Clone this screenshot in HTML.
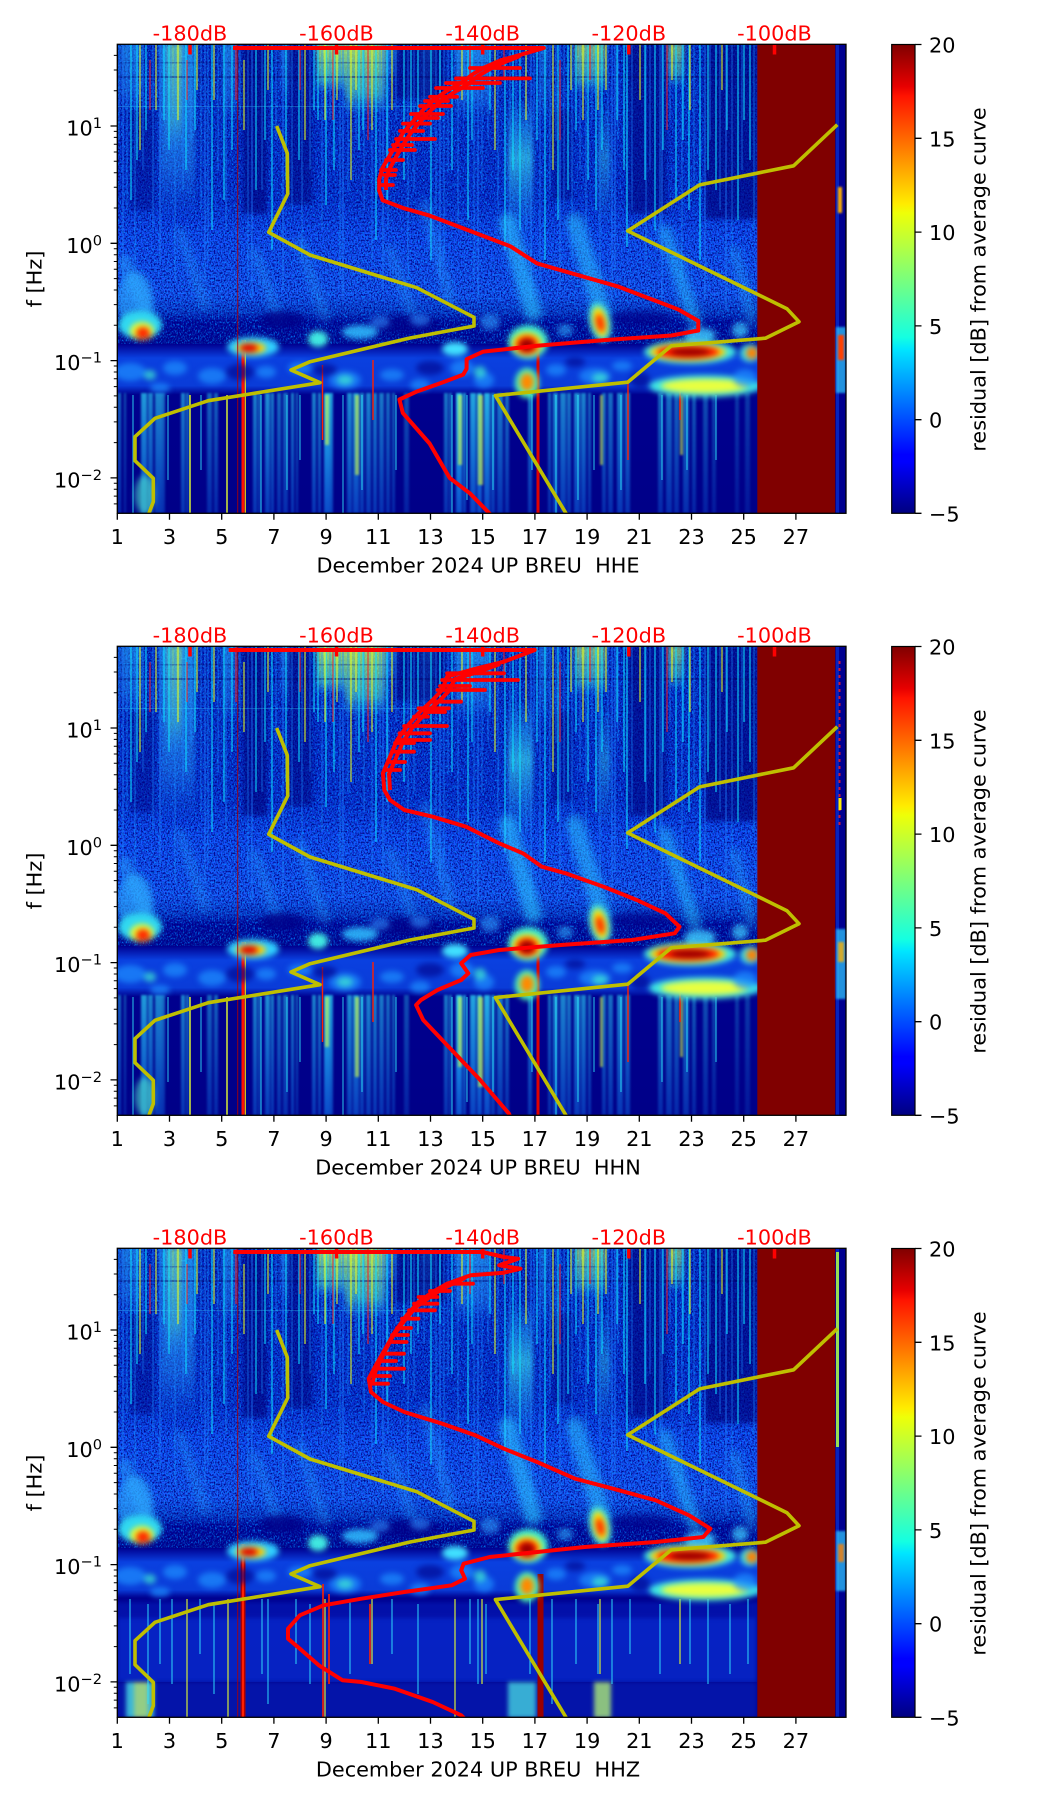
<!DOCTYPE html>
<html><head><meta charset="utf-8">
<style>
html,body{margin:0;padding:0;background:#fff}
svg{display:block}
text{font-family:"DejaVu Sans","Liberation Sans",sans-serif}
</style></head><body>
<svg xmlns="http://www.w3.org/2000/svg" xmlns:xlink="http://www.w3.org/1999/xlink" width="1052" height="1806" viewBox="0 0 1052 1806">
<defs>
<clipPath id="cp"><rect x="117.3" y="44.3" width="728.7" height="469"/></clipPath>
<filter id="b1" x="-20%" y="-20%" width="140%" height="140%" color-interpolation-filters="sRGB"><feGaussianBlur stdDeviation="1"/></filter>
<filter id="b2" x="-30%" y="-30%" width="160%" height="160%" color-interpolation-filters="sRGB"><feGaussianBlur stdDeviation="2"/></filter>
<filter id="b3" x="-50%" y="-50%" width="200%" height="200%" color-interpolation-filters="sRGB"><feGaussianBlur stdDeviation="3"/></filter>
<filter id="b4" x="-50%" y="-50%" width="200%" height="200%" color-interpolation-filters="sRGB"><feGaussianBlur stdDeviation="4"/></filter>
<filter id="nzL" x="0" y="0" width="1" height="1" color-interpolation-filters="sRGB"><feTurbulence type="fractalNoise" baseFrequency="0.65 0.5" numOctaves="2" seed="4"/><feColorMatrix type="matrix" values="0 0 0 0 0  0 0 0 0 0.55  0 0 0 0 1  2.6 0 0 0 -1.15"/></filter>
<filter id="nzD" x="0" y="0" width="1" height="1" color-interpolation-filters="sRGB"><feTurbulence type="fractalNoise" baseFrequency="0.7 0.55" numOctaves="2" seed="9"/><feColorMatrix type="matrix" values="0 0 0 0 0  0 0 0 0 0  0 0 0 0 0.5  0 2.8 0 0 -1.15"/></filter>
<linearGradient id="bg" gradientUnits="userSpaceOnUse" x1="0" y1="44.3" x2="0" y2="513.3">
<stop offset="0" stop-color="#0628c8"/>
<stop offset="0.332" stop-color="#0832d8"/>
<stop offset="0.407" stop-color="#1450ff"/>
<stop offset="0.535" stop-color="#1a5cff"/>
<stop offset="0.571" stop-color="#0c3ed0"/>
<stop offset="0.592" stop-color="#00009a"/>
<stop offset="0.639" stop-color="#000090"/>
<stop offset="0.669" stop-color="#0a40e0"/>
<stop offset="0.728" stop-color="#0a3cd8"/>
<stop offset="0.747" stop-color="#00008e"/>
<stop offset="1" stop-color="#000088"/>
</linearGradient>
<linearGradient id="jet" x1="0" y1="1" x2="0" y2="0">
<stop offset="0" stop-color="#000080"/>
<stop offset="0.11" stop-color="#0000ff"/>
<stop offset="0.125" stop-color="#0000ff"/>
<stop offset="0.34" stop-color="#00dbff"/>
<stop offset="0.35" stop-color="#00e6ff"/>
<stop offset="0.375" stop-color="#14ffe2"/>
<stop offset="0.5" stop-color="#7bff7b"/>
<stop offset="0.64" stop-color="#eeff08"/>
<stop offset="0.66" stop-color="#ffec00"/>
<stop offset="0.89" stop-color="#ff1300"/>
<stop offset="0.91" stop-color="#e80000"/>
<stop offset="1" stop-color="#800000"/>
</linearGradient>
<linearGradient id="cf" gradientUnits="userSpaceOnUse" x1="0" y1="393" x2="0" y2="513">
<stop offset="0" stop-color="#30e8ff" stop-opacity=".95"/>
<stop offset="0.5" stop-color="#20b8ff" stop-opacity=".85"/>
<stop offset="1" stop-color="#1488ff" stop-opacity=".65"/>
</linearGradient>
<linearGradient id="fC" x1="0" y1="0" x2="0" y2="1"><stop offset="0" stop-color="#30c8ff"/><stop offset="0.7" stop-color="#30b0ff" stop-opacity=".6"/><stop offset="1" stop-color="#2090ff" stop-opacity="0"/></linearGradient>
<linearGradient id="fY" x1="0" y1="0" x2="0" y2="1"><stop offset="0" stop-color="#c8ff50"/><stop offset="0.7" stop-color="#60f0b0" stop-opacity=".7"/><stop offset="1" stop-color="#30c0ff" stop-opacity="0"/></linearGradient>
<linearGradient id="mC" x1="0" y1="0" x2="0" y2="1"><stop offset="0" stop-color="#30d8ff" stop-opacity="0"/><stop offset="0.45" stop-color="#40f0e8"/><stop offset="1" stop-color="#30c0ff" stop-opacity="0"/></linearGradient>

<g id="up">
<rect x="117" y="44" width="730" height="470" fill="url(#bg)"/>
<rect x="117" y="44" width="640" height="300" fill="#000" filter="url(#nzL)"/>
<rect x="117" y="44" width="640" height="300" fill="#000" filter="url(#nzD)"/>
<g filter="url(#b2)">
<rect x="160" y="44" width="35" height="175" fill="url(#fC)" opacity=".6"/>
<rect x="168" y="44" width="14" height="110" fill="url(#fY)" opacity=".45"/>
<rect x="120" y="44" width="22" height="70" fill="url(#fC)" opacity=".45"/>
<rect x="317" y="44" width="28" height="50" fill="url(#fY)" opacity=".85"/>
<rect x="345" y="44" width="40" height="72" fill="url(#fY)" opacity=".8"/>
<rect x="385" y="44" width="12" height="40" fill="url(#fC)" opacity=".5"/>
<rect x="455" y="44" width="35" height="75" fill="url(#fC)" opacity=".55"/>
<rect x="508" y="95" width="25" height="140" fill="url(#mC)" opacity=".6"/>
<rect x="575" y="44" width="30" height="50" fill="url(#fY)" opacity=".7"/>
<rect x="668" y="44" width="16" height="45" fill="url(#fY)" opacity=".6"/>
<rect x="420" y="44" width="15" height="70" fill="url(#fC)" opacity=".4"/>
<rect x="222" y="44" width="14" height="80" fill="url(#fC)" opacity=".45"/>
<rect x="280" y="44" width="10" height="60" fill="url(#fC)" opacity=".4"/>
<rect x="598" y="100" width="12" height="130" fill="url(#mC)" opacity=".35"/>
<rect x="540" y="44" width="8" height="80" fill="url(#fC)" opacity=".4"/>
<rect x="243" y="44" width="24" height="170" fill="#00007a" opacity=".6"/>
<rect x="288" y="44" width="24" height="160" fill="#00007a" opacity=".5"/>
<rect x="395" y="44" width="50" height="55" fill="#00007a" opacity=".55"/>
<rect x="628" y="44" width="38" height="170" fill="#00007a" opacity=".55"/>
<rect x="705" y="44" width="52" height="175" fill="#00007a" opacity=".6"/>
<rect x="552" y="110" width="20" height="90" fill="#00007a" opacity=".4"/>
<rect x="130" y="110" width="25" height="100" fill="#00007a" opacity=".35"/>
</g>
<rect x="117" y="76" width="640" height="2" fill="#00006a" opacity=".4"/>
<rect x="117" y="62" width="640" height="1.5" fill="#000070" opacity=".3"/>
<rect x="117" y="106" width="300" height="1" fill="#40e0ff" opacity=".3"/>
<path d="M119 44V140M127 44V210M135 44V260M143 44V170M153 44V230M171 44V120M175 44V280M183 44V190M191 44V140M201 44V210M208 44V260M218 44V170M226 44V230M240 44V120M248 44V280M262 44V190M276 44V140M292 44V210M302 44V260M310 44V170M322 44V230M330 44V120M340 44V280M348 44V190M356 44V140M364 44V210M372 44V260M380 44V170M388 44V230M396 44V120M408 44V280M414 44V190M424 44V140M436 44V210M444 44V260M448 44V170M458 44V230M464 44V120M474 44V280M482 44V190M488 44V140M498 44V210M510 44V260M516 44V170M526 44V230M534 44V120M540 44V280M550 44V190M556 44V140M564 44V210M572 44V260M580 44V170M586 44V230M592 44V120M600 44V280M608 44V190M618 44V140M632 44V210M646 44V260M650 44V170M660 44V230M670 44V120M682 44V280M694 44V190M710 44V140M720 44V210M732 44V260M742 44V170M754 44V230" stroke="#1a8cff" stroke-width="1" opacity=".6"/>
<path d="M123 44V280M252 44V300M283 44V290M343 44V300M383 44V290M440 44V280M478 44V300M531 44V300M560 44V290M612 44V300M662 44V300M726 44V310M705 44V300M615 44V270M160 44V260M205 44V280" stroke="#2080ff" stroke-width="1.3" opacity=".6"/>
<path d="M131 44V200M186 44V170M212 44V230M256 44V190M272 44V250M299 44V160M326 44V205M359 44V150M376 44V240M404 44V180M418 44V130M452 44V170M468 44V220M520 44V230M545 44V260M568 44V190M596 44V210M624 44V170M655 44V230M676 44V200M700 44V260M716 44V190M738 44V220M750 44V160M146 44V130M164 44V120M232 44V150M318 44V120M431 44V260M505 60V250M588 44V180M627 44V247M689 44V210M744 44V120M137 44V160M169 44V150M195 44V130M224 44V200M265 44V140M286 44V180M314 44V110M334 44V170M363 44V130M387 44V200M411 44V150M440 44V120M472 44V140M490 44V110M513 44V170M537 44V140M558 44V220M576 44V130M602 44V150M617 44V120M645 44V180M663 44V150M683 44V140M708 44V170M727 44V130" stroke="#10e0ff" stroke-width="1.3" opacity=".8"/>
<path d="M140 44V150M178 44V120M244 60V130M305 44V140M351 44V180M392 44V110M495 44V150M553 44V170M583 44V120M640 44V100M690 44V110M606 44V90M337 44V100M197 44V90M156 44V110M214 44V100M268 44V90M325 44V120M356 44V90M372 44V130M462 44V100M526 44V120M571 44V90M598 44V110M672 44V80M722 44V90" stroke="#e8ff20" stroke-width="1.3" opacity=".8"/>
<path d="M150 60V110M236 44V100M333 50V120M368 44V140M504 44V80M560 60V140M667 44V130M590 44V80M187 60V100M300 50V90M470 44V90" stroke="#ff2020" stroke-width="1.2" opacity=".8"/>
<g filter="url(#b4)" stroke-linecap="round">
<line x1="125" y1="262" x2="150" y2="318" stroke="#30b0ff" stroke-width="14" opacity=".45"/>
<line x1="180" y1="232" x2="205" y2="305" stroke="#30b0ff" stroke-width="10" opacity=".3"/>
<line x1="255" y1="252" x2="278" y2="318" stroke="#30b0ff" stroke-width="10" opacity=".3"/>
<line x1="300" y1="242" x2="325" y2="318" stroke="#30b0ff" stroke-width="10" opacity=".3"/>
<line x1="390" y1="250" x2="412" y2="312" stroke="#30b0ff" stroke-width="10" opacity=".3"/>
<line x1="425" y1="205" x2="450" y2="300" stroke="#30b0ff" stroke-width="10" opacity=".35"/>
<line x1="508" y1="222" x2="533" y2="312" stroke="#30d0ff" stroke-width="18" opacity=".55"/>
<line x1="575" y1="222" x2="602" y2="312" stroke="#30d0ff" stroke-width="18" opacity=".5"/>
<line x1="665" y1="232" x2="695" y2="322" stroke="#30d0ff" stroke-width="14" opacity=".45"/>
<line x1="735" y1="252" x2="752" y2="322" stroke="#30c0ff" stroke-width="10" opacity=".35"/>
</g>
</g>

<g id="hot">
<g filter="url(#b3)">
<ellipse cx="282" cy="320" rx="22" ry="9" fill="#000088" opacity=".8"/>
<ellipse cx="405" cy="325" rx="35" ry="9" fill="#000088" opacity=".7"/>
<ellipse cx="640" cy="318" rx="30" ry="8" fill="#000088" opacity=".6"/>
<ellipse cx="135" cy="300" rx="18" ry="28" fill="#30b0ff" opacity=".6"/>
<ellipse cx="140" cy="325" rx="22" ry="14" fill="#30d8f0"/>
<ellipse cx="142" cy="331" rx="12" ry="9" fill="#e8ff30"/>
<ellipse cx="143" cy="333" rx="7" ry="6" fill="#ff2a00"/>
<ellipse cx="253" cy="347" rx="26" ry="10" fill="#30d0ff"/>
<ellipse cx="251" cy="348" rx="15" ry="6" fill="#ffd000"/>
<ellipse cx="249" cy="348" rx="9" ry="4" fill="#e00000"/>
<ellipse cx="318" cy="339" rx="10" ry="8" fill="#40e8e0"/>
<ellipse cx="360" cy="332" rx="18" ry="7" fill="#30c0ff" opacity=".85"/>
<ellipse cx="455" cy="349" rx="13" ry="7" fill="#40e0ff"/>
<ellipse cx="420" cy="320" rx="10" ry="6" fill="#3090ff" opacity=".6"/>
<ellipse cx="490" cy="322" rx="10" ry="8" fill="#30a0ff" opacity=".6"/>
<ellipse cx="528" cy="342" rx="20" ry="17" fill="#40f0d0"/>
<ellipse cx="527" cy="344" rx="15" ry="12" fill="#ffe000"/>
<ellipse cx="527" cy="345" rx="11" ry="9" fill="#ff2000"/>
<ellipse cx="527" cy="345" rx="7" ry="6" fill="#9a0000"/>
<ellipse cx="600" cy="322" rx="11" ry="20" fill="#40e0e0" transform="rotate(-12 600 322)"/>
<ellipse cx="600" cy="322" rx="7" ry="15" fill="#ffe000" transform="rotate(-12 600 322)"/>
<ellipse cx="600" cy="323" rx="4" ry="9" fill="#ff3000" transform="rotate(-12 600 322)"/>
<ellipse cx="690" cy="352" rx="46" ry="12" fill="#40e8e0"/>
<ellipse cx="688" cy="352" rx="38" ry="9" fill="#ffd000"/>
<ellipse cx="688" cy="352" rx="31" ry="6.5" fill="#ff1a00"/>
<ellipse cx="690" cy="352" rx="20" ry="4" fill="#9a0000"/>
<ellipse cx="750" cy="353" rx="10" ry="9" fill="#40e0e0"/>
<ellipse cx="752" cy="353" rx="6" ry="6" fill="#ff8000"/>
<ellipse cx="527" cy="383" rx="12" ry="15" fill="#50ffb0"/>
<ellipse cx="527" cy="382" rx="7" ry="9" fill="#ff8a00"/>
<ellipse cx="705" cy="386" rx="56" ry="11" fill="#40e8e0"/>
<ellipse cx="705" cy="386" rx="44" ry="7" fill="#e8ff40"/>
<ellipse cx="700" cy="335" rx="16" ry="7" fill="#40d0ff" opacity=".8"/>
<ellipse cx="740" cy="330" rx="8" ry="8" fill="#40d0ff" opacity=".7"/>
<ellipse cx="380" cy="322" rx="10" ry="6" fill="#3090ff" opacity=".6"/>
<ellipse cx="565" cy="330" rx="8" ry="6" fill="#30b0ff" opacity=".6"/>
<g fill="#1e90ff" opacity=".7">
<ellipse cx="130" cy="372" rx="16" ry="9"/><ellipse cx="175" cy="368" rx="12" ry="7"/><ellipse cx="212" cy="376" rx="14" ry="8"/><ellipse cx="266" cy="372" rx="10" ry="6"/><ellipse cx="300" cy="368" rx="12" ry="6"/><ellipse cx="345" cy="380" rx="16" ry="9"/><ellipse cx="392" cy="375" rx="12" ry="6"/><ellipse cx="462" cy="368" rx="12" ry="8"/><ellipse cx="484" cy="380" rx="10" ry="8"/><ellipse cx="556" cy="370" rx="10" ry="6"/><ellipse cx="595" cy="376" rx="16" ry="8"/><ellipse cx="622" cy="366" rx="10" ry="5"/><ellipse cx="745" cy="378" rx="12" ry="9"/><ellipse cx="160" cy="388" rx="10" ry="5"/><ellipse cx="420" cy="385" rx="10" ry="6"/>
</g>
<g fill="#000088" opacity=".6">
<ellipse cx="240" cy="372" rx="14" ry="8"/><ellipse cx="325" cy="370" rx="12" ry="6"/><ellipse cx="430" cy="368" rx="14" ry="7"/><ellipse cx="640" cy="380" rx="10" ry="8"/><ellipse cx="575" cy="362" rx="10" ry="5"/>
</g>
<g fill="#40f0d0" opacity=".7">
<ellipse cx="345" cy="380" rx="8" ry="5"/><ellipse cx="480" cy="372" rx="6" ry="6"/><ellipse cx="600" cy="378" rx="8" ry="5"/><ellipse cx="150" cy="375" rx="6" ry="5"/>
</g>
</g>
<path d="M237.7 44V513" stroke="#b00000" stroke-width="1" opacity=".85"/>
</g>

<g id="lowA">
<g filter="url(#b1)" fill="url(#cf)">
<rect x="118" y="393" width="3" height="120" opacity=".5"/><rect x="124" y="393" width="2" height="120" opacity=".4"/><rect x="141" y="393" width="6" height="120" opacity=".7"/><rect x="148" y="393" width="5" height="120" opacity=".6"/><rect x="155" y="393" width="7" height="120" opacity=".6"/><rect x="162" y="393" width="3" height="120" opacity=".5"/><rect x="181" y="393" width="4" height="120" opacity=".6"/><rect x="186" y="393" width="3" height="120" opacity=".5"/><rect x="207" y="393" width="5" height="120" opacity=".45"/><rect x="214" y="393" width="4" height="120" opacity=".45"/><rect x="253" y="393" width="4" height="120" opacity=".6"/><rect x="258" y="393" width="3" height="120" opacity=".5"/><rect x="265" y="393" width="5" height="120" opacity=".65"/><rect x="271" y="393" width="3" height="120" opacity=".6"/><rect x="277" y="393" width="4" height="120" opacity=".5"/><rect x="283" y="393" width="5" height="120" opacity=".5"/><rect x="291" y="393" width="3" height="120" opacity=".6"/><rect x="296" y="393" width="2" height="120" opacity=".5"/><rect x="312" y="393" width="4" height="120" opacity=".6"/><rect x="318" y="393" width="3" height="120" opacity=".6"/><rect x="324" y="393" width="6" height="120" opacity=".85"/><rect x="330" y="393" width="3" height="120" opacity=".7"/><rect x="347" y="393" width="5" height="120" opacity=".65"/><rect x="353" y="393" width="6" height="120" opacity=".7"/><rect x="360" y="393" width="4" height="120" opacity=".6"/><rect x="366" y="393" width="5" height="120" opacity=".6"/><rect x="373" y="393" width="4" height="120" opacity=".6"/><rect x="379" y="393" width="5" height="120" opacity=".55"/><rect x="386" y="393" width="4" height="120" opacity=".5"/><rect x="392" y="393" width="3" height="120" opacity=".45"/><rect x="404" y="393" width="5" height="120" opacity=".35"/><rect x="444" y="393" width="4" height="120" opacity=".55"/><rect x="449" y="393" width="3" height="120" opacity=".5"/><rect x="456" y="393" width="6" height="120" opacity=".9"/><rect x="463" y="393" width="3" height="120" opacity=".7"/><rect x="470" y="393" width="6" height="120" opacity=".75"/><rect x="477" y="393" width="5" height="120" opacity=".8"/><rect x="484" y="393" width="6" height="120" opacity=".8"/><rect x="491" y="393" width="4" height="120" opacity=".6"/><rect x="497" y="393" width="6" height="120" opacity=".55"/><rect x="505" y="393" width="4" height="120" opacity=".5"/><rect x="528" y="393" width="4" height="120" opacity=".55"/><rect x="548" y="393" width="3" height="120" opacity=".5"/><rect x="553" y="393" width="5" height="120" opacity=".65"/><rect x="560" y="393" width="6" height="120" opacity=".6"/><rect x="567" y="393" width="4" height="120" opacity=".55"/><rect x="574" y="393" width="6" height="120" opacity=".65"/><rect x="581" y="393" width="5" height="120" opacity=".6"/><rect x="588" y="393" width="3" height="120" opacity=".5"/><rect x="602" y="393" width="4" height="120" opacity=".5"/><rect x="608" y="393" width="5" height="120" opacity=".5"/><rect x="617" y="393" width="6" height="120" opacity=".6"/><rect x="625" y="393" width="5" height="120" opacity=".55"/><rect x="658" y="393" width="5" height="120" opacity=".45"/><rect x="666" y="393" width="6" height="120" opacity=".5"/><rect x="674" y="393" width="5" height="120" opacity=".45"/><rect x="683" y="393" width="6" height="120" opacity=".5"/><rect x="692" y="393" width="4" height="120" opacity=".4"/><rect x="703" y="393" width="5" height="120" opacity=".35"/><rect x="712" y="393" width="4" height="120" opacity=".3"/><rect x="735" y="393" width="4" height="120" opacity=".25"/><rect x="745" y="393" width="5" height="120" opacity=".25"/>
</g>
<g filter="url(#b1)" fill="#d8ff40" opacity=".6">
<rect x="458" y="395" width="4" height="70"/><rect x="478" y="395" width="5" height="90"/><rect x="325" y="395" width="4" height="50"/><rect x="355" y="395" width="4" height="80"/><rect x="600" y="395" width="3" height="70"/><rect x="680" y="395" width="3" height="60"/>
</g>
<path d="M133 395V513M168 395V480M201 395V470M261 395V513M287 395V490M300 395V460M343 395V513M362 395V490M396 395V470M452 395V513M467 395V500M493 395V490M532 395V470M556 395V513M578 395V500M594 395V470M621 395V490M662 395V480M687 395V470M716 395V460" stroke="#30f0ff" stroke-width="1.2" opacity=".7"/>
<path d="M190 395V513M227 395V513" stroke="#e8ff30" stroke-width="1.4"/>
<path d="M243 340V513" stroke="#ff1000" stroke-width="3"/>
<path d="M245.3 340V513" stroke="#ffee00" stroke-width="1"/>
<path d="M538 350V513" stroke="#e00000" stroke-width="3"/>
<path d="M322.5 365V440M373 360V420M628 380V460M680 390V420" stroke="#ff2000" stroke-width="1.4"/>
<ellipse cx="145" cy="495" rx="10" ry="20" fill="#50f0d0" opacity=".6" filter="url(#b3)"/>
</g>

<g id="lowB">
<rect x="117" y="398" width="640" height="80" fill="#0a3ae8" opacity=".6" filter="url(#b2)"/>
<rect x="117" y="392" width="640" height="22" fill="#000090" opacity=".5" filter="url(#b2)"/>
<rect x="117" y="478" width="640" height="36" fill="#00008c"/>
<g filter="url(#b2)">
<rect x="126" y="478" width="28" height="36" fill="#50f0d0" opacity=".9"/>
<rect x="134" y="478" width="14" height="36" fill="#e0ff40" opacity=".8"/>
<rect x="508" y="478" width="28" height="36" fill="#50f0d0" opacity=".85"/>
<rect x="594" y="478" width="17" height="36" fill="#c8ff50" opacity=".9"/>
<rect x="117" y="478" width="640" height="36" fill="#1050ff" opacity=".25"/>
</g>
<path d="M130 395V470M148 400V500M160 395V460M172 395V480M200 395V450M214 400V490M262 395V470M268 395V500M296 395V460M310 400V480M350 395V470M392 395V450M418 400V490M470 395V460M478 395V480M486 400V470M530 395V470M552 395V500M576 395V460M598 400V470M612 395V480M630 395V450M660 400V470M690 395V460M708 395V480M730 400V470M748 395V460" stroke="#30e0ff" stroke-width="1.2" opacity=".8"/>
<path d="M187 395V513M228 395V513M325 395V513M455 395V513M482 395V480M600 395V470M680 395V460M372 395V460" stroke="#e8ff30" stroke-width="1.3" opacity=".85"/>
<path d="M243 340V513" stroke="#b00000" stroke-width="5"/>
<path d="M243 340V513" stroke="#ff2000" stroke-width="2"/>
<path d="M540.5 370V513" stroke="#9a0000" stroke-width="6"/>
<path d="M323 380V513M329 390V480M370 400V460" stroke="#ff2000" stroke-width="1.6"/>
</g>

<g id="ticks" stroke="#000" fill="none">
<path d="M110.5 126H117.3M110.5 243.3H117.3M110.5 360.6H117.3M110.5 477.9H117.3" stroke-width="1.3"/>
<path d="M113.8 90.7H117.3M113.8 70H117.3M113.8 55.4H117.3M113.8 208H117.3M113.8 187.3H117.3M113.8 172.7H117.3M113.8 161.3H117.3M113.8 152H117.3M113.8 144.2H117.3M113.8 137.4H117.3M113.8 131.4H117.3M113.8 325.3H117.3M113.8 304.6H117.3M113.8 290H117.3M113.8 278.6H117.3M113.8 269.3H117.3M113.8 261.5H117.3M113.8 254.7H117.3M113.8 248.7H117.3M113.8 442.6H117.3M113.8 421.9H117.3M113.8 407.3H117.3M113.8 395.9H117.3M113.8 386.6H117.3M113.8 378.8H117.3M113.8 372H117.3M113.8 366H117.3M113.8 503.9H117.3M113.8 496.1H117.3M113.8 489.3H117.3M113.8 483.3H117.3" stroke-width="1"/>
<path d="M117.3 513.3V519.8M169.5 513.3V519.8M221.7 513.3V519.8M273.9 513.3V519.8M326.1 513.3V519.8M378.3 513.3V519.8M430.5 513.3V519.8M482.7 513.3V519.8M534.9 513.3V519.8M587.1 513.3V519.8M639.3 513.3V519.8M691.5 513.3V519.8M743.7 513.3V519.8M795.9 513.3V519.8" stroke-width="1.3"/>
<path d="M915 44.5H921.5M915 138.3H921.5M915 232.1H921.5M915 325.9H921.5M915 419.7H921.5M915 513.3H921.5" stroke-width="1.3"/>
<rect x="891.7" y="44.5" width="23.3" height="468.8" fill="url(#jet)" stroke="#000" stroke-width="1.2"/>
</g>
<path id="dbt" d="M190 44.3V54.5M336.5 44.3V54.5M482.7 44.3V54.5M628.8 44.3V54.5M774.5 44.3V54.5" stroke="#ff0000" stroke-width="3.5"/>
<path id="yel" d="M276.7,126 L287.3,153.3 L287.7,194 L268.7,232.3 L310,255 L416.7,287.7 L474,317.3 L474,326 L410,338 L310,361.7 L291,370 L320,382.7 L208.3,400.7 L155,418.3 L135,436.7 L135,460.7 L153.3,478.3 L153.3,501.7 L148.3,515 M837.3,124.7 L793.6,165.8 L699.6,184.9 L627.7,230.9 L786.9,308.7 L799,321.7 L765.4,338.2 L671.4,345.8 L627.7,382.2 L495.4,395.6 L567,515" fill="none" stroke="#bfbf00" stroke-width="3.6" stroke-linejoin="round"/>
<g id="strip">
<rect x="835.3" y="44" width="12" height="470" fill="#000090"/>
<rect x="836" y="44" width="3" height="470" fill="#0a30d0" opacity=".7"/>
</g>
</defs>

<rect x="0" y="0" width="1052" height="1806" fill="#fff"/>

<!-- ================= PANEL 1 ================= -->
<g>
<g clip-path="url(#cp)">
<use xlink:href="#up"/>
<use xlink:href="#lowA"/>
<use xlink:href="#hot"/>
<rect x="757.3" y="44" width="78" height="470" fill="#800000"/>
<use xlink:href="#strip"/>
<g filter="url(#b1)">
<rect x="836" y="327" width="10" height="66" fill="#30d0ff" opacity=".7"/>
<rect x="838" y="335" width="6" height="25" fill="#ff4000"/>
<rect x="838" y="187" width="4" height="26" fill="#ffb000"/>
</g>
<use xlink:href="#yel"/>
<path d="M233,48 H543.8 L517,55.8 L500.2,60.4 L483.3,68 L473.3,73.8 L463.2,81.5 L446.4,91 L433,100.6 L422.9,110.2 L412.8,121.7 L402.8,133.2 L396,144.7 L389.3,156.2 L382.6,167.7 L379.2,179.2 L379.2,190.6 L382.6,200.2 L402.8,207.9 L429.6,215.6 L469.9,230.9 L510.2,246.2 L537.1,263.4 L577.4,274.9 L617.7,286.4 L647.9,297.9 L678.1,309.4 L698.3,320.9 L698.3,330.5 L671.4,335.5 L604.2,340.1 L537.1,345.8 L483.3,351.6 L466.6,359.2 L466.6,368.8 L463.2,374.6 L443.1,382.2 L416.2,391.8 L399.4,399.5 L402.8,412.9 L429.6,443.5 L449.7,478 L469.9,493.3 L492,516" fill="none" stroke="#ff0000" stroke-width="4" stroke-linejoin="round"/>
<path d="M520,56 L505,62 L490,69 L478,76 L468,84 L453,93 L440,102 L429,112 L419,123 L410,134 L403,145 L396,157 L390,168 L386,179 L386,190" fill="none" stroke="#ff0000" stroke-width="4"/>
<path d="M470 68H520M456 78.4H530M436 88H483M430 96.8H457M420 106H451M411 114H443M403 123.6H430M400 131H423M396 139H435M390 150H415M386 160H403M381 170H396M446 83H500M425 101H448M415 118H438M393 145H412M384 175H395M382 185H393" stroke="#ff0000" stroke-width="3.8" stroke-linecap="round"/>
</g>
<use xlink:href="#dbt"/>
<use xlink:href="#ticks"/>
<rect x="117.3" y="44.3" width="728.7" height="469" fill="none" stroke="#000" stroke-width="1.3"/>
<g font-size="20.8" fill="#ff0000" text-anchor="middle">
<text x="190" y="40.7">-180dB</text><text x="336.5" y="40.7">-160dB</text><text x="482.7" y="40.7">-140dB</text><text x="628.8" y="40.7">-120dB</text><text x="774.5" y="40.7">-100dB</text>
</g>
<g font-size="20.8" fill="#000" text-anchor="end">
<text x="102" y="135.5">10<tspan dy="-7.5" font-size="14.6">1</tspan></text>
<text x="102" y="252.8">10<tspan dy="-7.5" font-size="14.6">0</tspan></text>
<text x="102" y="370.1">10<tspan dy="-7.5" font-size="14.6">−1</tspan></text>
<text x="102" y="487.4">10<tspan dy="-7.5" font-size="14.6">−2</tspan></text>
</g>
<g font-size="20.8" fill="#000" text-anchor="middle">
<text x="117.3" y="544">1</text><text x="169.5" y="544">3</text><text x="221.7" y="544">5</text><text x="273.9" y="544">7</text><text x="326.1" y="544">9</text><text x="378.3" y="544">11</text><text x="430.5" y="544">13</text><text x="482.7" y="544">15</text><text x="534.9" y="544">17</text><text x="587.1" y="544">19</text><text x="639.3" y="544">21</text><text x="691.5" y="544">23</text><text x="743.7" y="544">25</text><text x="795.9" y="544">27</text>
<text x="478" y="572.6" style="white-space:pre">December 2024 UP BREU  HHE</text>
<text transform="translate(41.5,279) rotate(-90)">f [Hz]</text>
<text transform="translate(985.5,279.5) rotate(-90)">residual [dB] from average curve</text>
</g>
<g font-size="20.8" fill="#000">
<text x="929" y="52.5">20</text><text x="929" y="146.3">15</text><text x="929" y="240.1">10</text><text x="929" y="333.9">5</text><text x="929" y="427.7">0</text><text x="929" y="521.3">−5</text>
</g>
</g>

<!-- ================= PANEL 2 ================= -->
<g transform="translate(0,602)">
<g clip-path="url(#cp)">
<use xlink:href="#up"/>
<use xlink:href="#lowA"/>
<use xlink:href="#hot"/>
<rect x="757.3" y="44" width="78" height="470" fill="#800000"/>
<use xlink:href="#strip"/>
<g filter="url(#b1)">
<rect x="836" y="327" width="10" height="70" fill="#30d0ff" opacity=".7"/>
<rect x="838" y="340" width="6" height="20" fill="#ffb000" opacity=".8"/>
</g>
<path d="M839.5 59V224" stroke="#ff2020" stroke-width="2" stroke-dasharray="3 4" opacity=".8"/>
<rect x="838.5" y="196" width="3" height="12" fill="#ffee00"/>
<use xlink:href="#yel"/>
<path d="M228.7,48 H534.8 L503.9,59.7 L470.7,68 L447,74.7 L442.2,88 L432.7,98 L418.5,111.3 L406.6,124.7 L397.1,138 L390,154.7 L382.9,171.3 L384.3,188 L390,198 L404.3,208 L432.7,214.7 L466,224.7 L499.2,241.3 L522.9,251.3 L541.9,264.7 L565.6,271.3 L603.6,284.7 L636.8,298 L665.3,311.3 L679.5,324.7 L674.8,331.3 L632.1,338 L560.9,343 L499.2,348 L470.7,353 L461.2,361.3 L468.3,371.3 L461.2,378 L437.5,388 L420.9,398 L416.1,403 L423.2,418 L451.7,448 L480.2,478 L508.7,511.3 L511,516" fill="none" stroke="#ff0000" stroke-width="4" stroke-linejoin="round"/>
<path d="M500,62 L478,70 L455,77 L448,90 L438,100 L424,113 L412,126 L403,140 L396,156 L389,172 L390,188" fill="none" stroke="#ff0000" stroke-width="4"/>
<path d="M447 71.3H504M442 78H518M437.5 88H485M433 99.7H461M418.5 106.3H449M414 114.7H428M404 124H447M399.5 131.3H430M397 138H430M395 141H414M392 149.7H414M440 84H470M425 110H445M390 160H405M386 168H400" stroke="#ff0000" stroke-width="3.8" stroke-linecap="round"/>
</g>
<use xlink:href="#dbt"/>
<use xlink:href="#ticks"/>
<rect x="117.3" y="44.3" width="728.7" height="469" fill="none" stroke="#000" stroke-width="1.3"/>
<g font-size="20.8" fill="#ff0000" text-anchor="middle">
<text x="190" y="40.7">-180dB</text><text x="336.5" y="40.7">-160dB</text><text x="482.7" y="40.7">-140dB</text><text x="628.8" y="40.7">-120dB</text><text x="774.5" y="40.7">-100dB</text>
</g>
<g font-size="20.8" fill="#000" text-anchor="end">
<text x="102" y="135.5">10<tspan dy="-7.5" font-size="14.6">1</tspan></text>
<text x="102" y="252.8">10<tspan dy="-7.5" font-size="14.6">0</tspan></text>
<text x="102" y="370.1">10<tspan dy="-7.5" font-size="14.6">−1</tspan></text>
<text x="102" y="487.4">10<tspan dy="-7.5" font-size="14.6">−2</tspan></text>
</g>
<g font-size="20.8" fill="#000" text-anchor="middle">
<text x="117.3" y="544">1</text><text x="169.5" y="544">3</text><text x="221.7" y="544">5</text><text x="273.9" y="544">7</text><text x="326.1" y="544">9</text><text x="378.3" y="544">11</text><text x="430.5" y="544">13</text><text x="482.7" y="544">15</text><text x="534.9" y="544">17</text><text x="587.1" y="544">19</text><text x="639.3" y="544">21</text><text x="691.5" y="544">23</text><text x="743.7" y="544">25</text><text x="795.9" y="544">27</text>
<text x="478" y="572.6" style="white-space:pre">December 2024 UP BREU  HHN</text>
<text transform="translate(41.5,279) rotate(-90)">f [Hz]</text>
<text transform="translate(985.5,279.5) rotate(-90)">residual [dB] from average curve</text>
</g>
<g font-size="20.8" fill="#000">
<text x="929" y="52.5">20</text><text x="929" y="146.3">15</text><text x="929" y="240.1">10</text><text x="929" y="333.9">5</text><text x="929" y="427.7">0</text><text x="929" y="521.3">−5</text>
</g>
</g>

<!-- ================= PANEL 3 ================= -->
<g transform="translate(0,1204)">
<g clip-path="url(#cp)">
<use xlink:href="#up"/>
<use xlink:href="#lowB"/>
<use xlink:href="#hot"/>
<rect x="757.3" y="44" width="78" height="470" fill="#800000"/>
<use xlink:href="#strip"/>
<rect x="836" y="48" width="3" height="195" fill="#b0ff40" opacity=".85"/>
<g filter="url(#b1)">
<rect x="836" y="327" width="10" height="60" fill="#30d0ff" opacity=".7"/>
<rect x="838" y="340" width="6" height="18" fill="#ff8000" opacity=".8"/>
</g>
<use xlink:href="#yel"/>
<path d="M233.4,48 H482.6 L503.9,53 L518.2,54.7 L499.2,61.3 L520.5,64.7 L503.9,68.7 L470.7,71.3 L447,79.7 L432.7,88 L418.5,98 L406.6,111.3 L394.8,128 L385.3,144.7 L375.8,161.3 L368.7,174.7 L371,188 L382.9,198 L404.3,208 L442.2,219.7 L475.4,231.3 L503.9,244.7 L537.1,258 L575.1,274.7 L613.1,284.7 L655.8,296.3 L689,311.3 L710.4,324.7 L703.3,333 L655.8,338 L584.6,343 L537.1,348 L489.7,353 L463.6,359.7 L461.2,366.3 L465,374.7 L451.7,381.3 L404.3,388 L361.5,394.7 L323.6,401.3 L299.8,411.3 L288,424.7 L288,434.7 L299.8,444.7 L318.8,461.3 L342.6,476.3 L361.5,478 L394.8,484.7 L432.7,498 L461.2,511.3 L466,516" fill="none" stroke="#ff0000" stroke-width="4" stroke-linejoin="round"/>
<path d="M465,74 L444,84 L430,93 L416,103 L405,116 L393,132 L384,149 L376,166 L372,180" fill="none" stroke="#ff0000" stroke-width="4"/>
<path d="M447 79.7H473M418.5 93H437.5M414 99.7H437.5M409 106.3H435M402 114.7H418.5M397 124H411M390 138H406.6M385 149.7H404M378 164.7H404M371 179.7H388M430 87H450M392 131H408M382 157H396M374 172H390" stroke="#ff0000" stroke-width="3.8" stroke-linecap="round"/>
</g>
<use xlink:href="#dbt"/>
<use xlink:href="#ticks"/>
<rect x="117.3" y="44.3" width="728.7" height="469" fill="none" stroke="#000" stroke-width="1.3"/>
<g font-size="20.8" fill="#ff0000" text-anchor="middle">
<text x="190" y="40.7">-180dB</text><text x="336.5" y="40.7">-160dB</text><text x="482.7" y="40.7">-140dB</text><text x="628.8" y="40.7">-120dB</text><text x="774.5" y="40.7">-100dB</text>
</g>
<g font-size="20.8" fill="#000" text-anchor="end">
<text x="102" y="135.5">10<tspan dy="-7.5" font-size="14.6">1</tspan></text>
<text x="102" y="252.8">10<tspan dy="-7.5" font-size="14.6">0</tspan></text>
<text x="102" y="370.1">10<tspan dy="-7.5" font-size="14.6">−1</tspan></text>
<text x="102" y="487.4">10<tspan dy="-7.5" font-size="14.6">−2</tspan></text>
</g>
<g font-size="20.8" fill="#000" text-anchor="middle">
<text x="117.3" y="544">1</text><text x="169.5" y="544">3</text><text x="221.7" y="544">5</text><text x="273.9" y="544">7</text><text x="326.1" y="544">9</text><text x="378.3" y="544">11</text><text x="430.5" y="544">13</text><text x="482.7" y="544">15</text><text x="534.9" y="544">17</text><text x="587.1" y="544">19</text><text x="639.3" y="544">21</text><text x="691.5" y="544">23</text><text x="743.7" y="544">25</text><text x="795.9" y="544">27</text>
<text x="478" y="572.6" style="white-space:pre">December 2024 UP BREU  HHZ</text>
<text transform="translate(41.5,279) rotate(-90)">f [Hz]</text>
<text transform="translate(985.5,279.5) rotate(-90)">residual [dB] from average curve</text>
</g>
<g font-size="20.8" fill="#000">
<text x="929" y="52.5">20</text><text x="929" y="146.3">15</text><text x="929" y="240.1">10</text><text x="929" y="333.9">5</text><text x="929" y="427.7">0</text><text x="929" y="521.3">−5</text>
</g>
</g>
</svg>
</body></html>
